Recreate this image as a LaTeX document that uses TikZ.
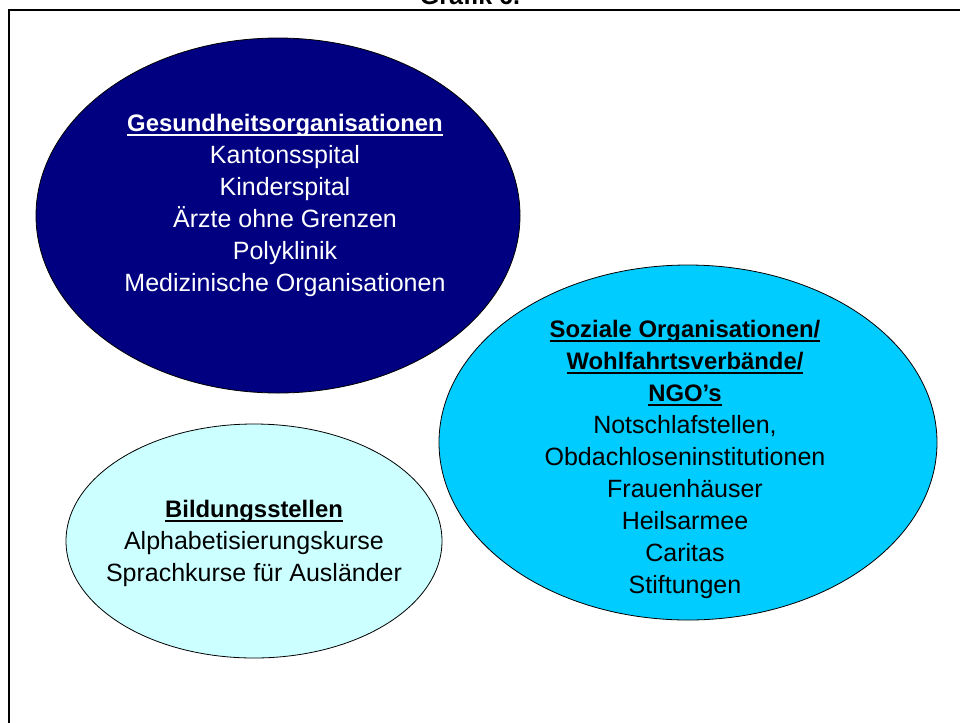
\documentclass[tikz,border=0pt]{standalone}
\usepackage{fontspec}
\setmainfont{Liberation Sans}
\usepackage{xcolor}
\usepackage{tikz}

\definecolor{gesnavy}{HTML}{000080}
\definecolor{sozcyan}{HTML}{00CCFF}
\definecolor{bildcyan}{HTML}{CCFFFF}

% bold heading, underlined at a fixed depth
\newsavebox{\hdbox}
\newcommand{\hdu}[1]{\sbox{\hdbox}{\fontsize{17.9}{24}\selectfont\textbf{#1}}%
  \rlap{\rule[-3.4pt]{\wd\hdbox}{0.9pt}}\usebox{\hdbox}}

\begin{document}
\begin{tikzpicture}[
    x=0.75pt, y=-0.75pt,
    every node/.style={font=\fontsize{18.75}{24}\selectfont, align=center, inner sep=0pt},
    field/.style={draw=black, line width=0.6pt},
    hd/.style={font=\fontsize{18.75}{24}\selectfont\bfseries},
  ]
  \useasboundingbox (0,0) rectangle (960,722);
  \clip (0,0) rectangle (960,722);

  % -- frame and title --
  \draw[line width=1.5pt] (1000,10) -- (9,10) -- (9,760);
  \node[hd, anchor=base] (titel) at (470,4) {Grafik 6.};

  % -- the three fields --
  \draw[field, fill=gesnavy]  (278,215.5) ellipse [x radius=242, y radius=177.5];
  \draw[field, fill=sozcyan]  (688,442.5) ellipse [x radius=249, y radius=177.5];
  \draw[field, fill=bildcyan] (254,541)   ellipse [x radius=188, y radius=117];

  % -- what stands in them --
  \node[text=white] (ges) at (285,205)
       {\hdu{Gesundheitsorganisationen}\\Kantonsspital\\Kinderspital\\%
        Ärzte ohne Grenzen\\Polyklinik\\Medizinische Organisationen};
  \node (soz) at (685,459)
       {\hdu{Soziale Organisationen/}\\\hdu{Wohlfahrtsverbände/}\\%
        \hdu{NGO’s}\\Notschlafstellen,\\Obdachloseninstitutionen\\%
        Frauenhäuser\\Heilsarmee\\Caritas\\Stiftungen};
  \node (bild) at (254,543)
       {\hdu{Bildungsstellen}\\Alphabetisierungskurse\\Sprachkurse für Ausländer};
\end{tikzpicture}
\end{document}
